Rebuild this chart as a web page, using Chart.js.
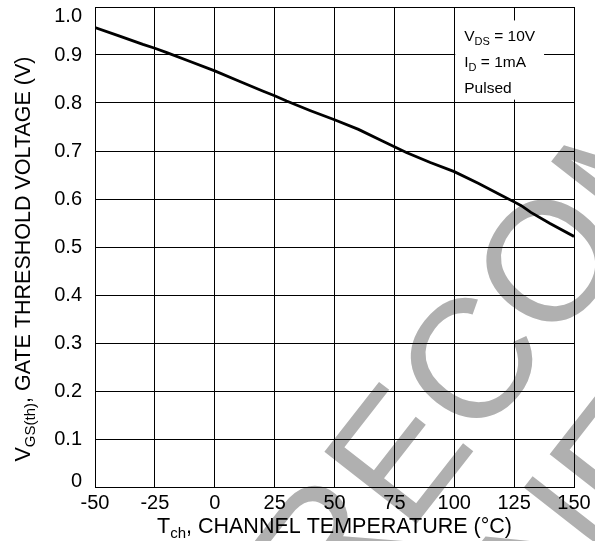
<!DOCTYPE html>
<html>
<head>
<meta charset="utf-8">
<script src="https://cdn.jsdelivr.net/npm/chart.js@4/dist/chart.umd.min.js"></script>
<style>
  html, body { margin: 0; padding: 0; background: #fff; }
  #wrap { width: 595px; height: 541px; position: relative; }
</style>
</head>
<body>
<div id="wrap"><canvas id="chart" width="595" height="541"></canvas></div>
<script>
// ---- data ----
const tempC = [-50, -40, -30, -25, -20, -10, 0, 10, 20, 25, 30, 40, 50, 60, 70, 75, 80, 90, 100, 110, 120, 125, 128, 132, 140, 150];
const vgsTh = [0.957, 0.940, 0.922, 0.914, 0.905, 0.886, 0.867, 0.846, 0.825, 0.815, 0.804, 0.784, 0.765, 0.745, 0.721, 0.709, 0.697, 0.676, 0.657, 0.633, 0.607, 0.594, 0.586, 0.572, 0.549, 0.522];
const xTicks = [-50, -25, 0, 25, 50, 75, 100, 125, 150];
const yTicks = [0, 0.1, 0.2, 0.3, 0.4, 0.5, 0.6, 0.7, 0.8, 0.9, 1.0];

const yTitle = [{ t: 'V' }, { t: 'GS(th)', sub: true }, { t: ', GATE THRESHOLD VOLTAGE (V)' }];
const xTitle = [{ t: 'T' }, { t: 'ch', sub: true }, { t: ', CHANNEL TEMPERATURE (°C)' }];
const conditions = [
    [{ t: 'V' }, { t: 'DS', sub: true }, { t: ' = 10V' }],
    [{ t: 'I' }, { t: 'D', sub: true }, { t: ' = 1mA' }],
    [{ t: 'Pulsed' }]
];
const watermark = ['NOT RECOMMENDED', 'FOR NEW DESIGN'];

const FONT = '"Liberation Sans", Arial, sans-serif';

// draw a run of text pieces (with subscripts), centred on x
function drawRuns(ctx, runs, x, y, size, align) {
    const subSize = Math.round(size * 0.7);
    let total = 0;
    runs.forEach(r => {
        ctx.font = (r.sub ? subSize : size) + 'px ' + FONT;
        r.w = ctx.measureText(r.t).width;
        total += r.w;
    });
    let cx = align === 'left' ? x : x - total / 2;
    ctx.textAlign = 'left';
    ctx.textBaseline = 'alphabetic';
    runs.forEach(r => {
        ctx.font = (r.sub ? subSize : size) + 'px ' + FONT;
        ctx.fillText(r.t, cx, r.sub ? y + size * 0.22 : y);
        cx += r.w;
    });
}

const decorations = {
    id: 'decorations',
    beforeDraw(chart) {
        const ctx = chart.ctx;
        ctx.save();
        ctx.fillStyle = '#fff';
        ctx.fillRect(0, 0, chart.width, chart.height);
        // grey watermark underneath everything
        ctx.translate(629, 252);
        ctx.rotate(-52 * Math.PI / 180);
        ctx.fillStyle = '#b0b0b0';
        ctx.font = '170px ' + FONT;
        ctx.textAlign = 'center';
        ctx.textBaseline = 'alphabetic';
        ctx.fillText(watermark[0], 0, 0);
        ctx.fillText(watermark[1], 0, 179);
        ctx.restore();
    },
    beforeDatasetsDraw(chart) {
        const ctx = chart.ctx;
        const xs = chart.scales.x, ys = chart.scales.y;
        // white box for the test conditions
        const bx0 = xs.getPixelForValue(100) + 1;
        const bx1 = xs.getPixelForValue(137.5);
        const by0 = ys.getPixelForValue(0.972);
        const by1 = ys.getPixelForValue(0.807);
        ctx.save();
        ctx.fillStyle = '#fff';
        ctx.fillRect(bx0, by0, bx1 - bx0, by1 - by0);
        ctx.fillStyle = '#000';
        conditions.forEach((line, i) => {
            drawRuns(ctx, line, bx0 + 9, by0 + 21 + i * 26, 15.5, 'left');
        });
        ctx.restore();
    },
    afterDraw(chart) {
        const ctx = chart.ctx;
        const area = chart.chartArea;
        const ys = chart.scales.y;
        ctx.save();
        ctx.fillStyle = '#000';
        // y tick labels, kept inside the plot height at the ends
        ctx.font = '20px ' + FONT;
        ctx.textAlign = 'right';
        ctx.textBaseline = 'middle';
        yTicks.forEach(v => {
            let py = ys.getPixelForValue(v);
            py = Math.min(Math.max(py, area.top + 9), area.bottom - 6);
            ctx.fillText(v === 0 ? '0' : v.toFixed(1), area.left - 13, py);
        });
        // x axis title
        drawRuns(ctx, xTitle, (area.left + area.right) / 2, 533, 21.5);
        // y axis title
        ctx.translate(30, (area.top + area.bottom) / 2 + 12);
        ctx.rotate(-Math.PI / 2);
        drawRuns(ctx, yTitle, 0, 0, 21.5);
        ctx.restore();
    }
};

const points = tempC.map((t, i) => ({ x: t, y: vgsTh[i] }));

new Chart(document.getElementById('chart'), {
    type: 'line',
    data: {
        datasets: [{
            data: points,
            borderColor: '#000',
            borderWidth: 2.8,
            pointRadius: 0,
            tension: 0,
            fill: false
        }]
    },
    options: {
        responsive: false,
        animation: false,
        layout: { padding: { top: 7, right: 21, left: 0, bottom: 0 } },
        plugins: { legend: { display: false }, tooltip: { enabled: false } },
        scales: {
            x: {
                type: 'linear',
                min: xTicks[0],
                max: xTicks[xTicks.length - 1],
                afterBuildTicks: s => { s.ticks = xTicks.map(v => ({ value: v })); },
                afterFit: s => { s.height = 54; },
                grid: { color: '#000', lineWidth: 1, drawTicks: false },
                border: { color: '#000', width: 1 },
                ticks: {
                    color: '#000',
                    padding: 4,
                    maxRotation: 0,
                    font: { family: FONT, size: 20 },
                    callback: v => String(v)
                }
            },
            y: {
                type: 'linear',
                min: yTicks[0],
                max: yTicks[yTicks.length - 1],
                afterBuildTicks: s => { s.ticks = yTicks.map(v => ({ value: v })); },
                afterFit: s => { s.width = 95; },
                grid: { color: '#000', lineWidth: 1, drawTicks: false },
                border: { color: '#000', width: 1 },
                ticks: { display: false }
            }
        }
    },
    plugins: [decorations]
});
</script>
</body>
</html>
